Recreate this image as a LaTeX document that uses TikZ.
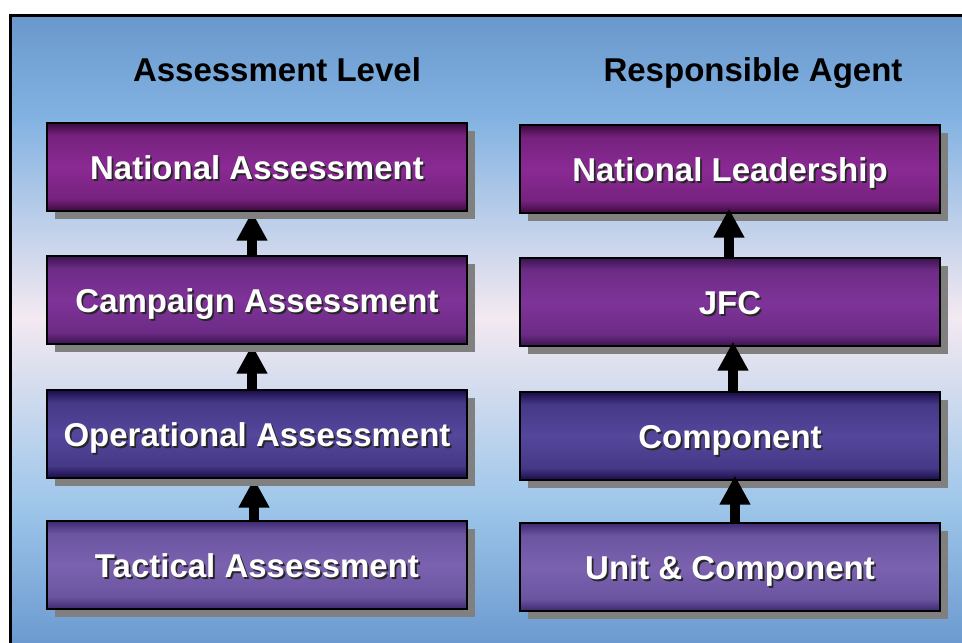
\documentclass[tikz,border=0pt]{standalone}
\usepackage{fontspec}
\setmainfont{Liberation Sans}
\usetikzlibrary{arrows.meta,shadows}

% background colours
\definecolor{bgtop}{HTML}{6A98CC}
\definecolor{bgupper}{HTML}{82B2E2}
\definecolor{bgpink}{HTML}{F3E9F1}
\definecolor{bglower}{HTML}{9EC6EA}
\definecolor{bgbottom}{HTML}{6C9AD0}
\definecolor{boxshadow}{HTML}{808080}
\pgfdeclareverticalshading{bgshade}{100bp}{color(0bp)=(bgbottom); color(25bp)=(bgbottom);
  color(36bp)=(bglower); color(51bp)=(bgpink); color(67bp)=(bgupper); color(75bp)=(bgtop); color(100bp)=(bgtop)}

% box shadings: dark edges, lighter middle
\newcommand{\defboxshade}[3]{%
  \definecolor{#1e}{HTML}{#2}\definecolor{#1m}{HTML}{#3}\colorlet{#1h}{#1m!75!#1e}%
  \pgfdeclareverticalshading{#1shade}{100bp}{color(0bp)=(#1e); color(25bp)=(#1e); color(32bp)=(#1h);
    color(50bp)=(#1m); color(68bp)=(#1h); color(75bp)=(#1e); color(100bp)=(#1e)}}
\defboxshade{nat}{3A0A3C}{8A2A94}
\defboxshade{camp}{3A1450}{7E3398}
\defboxshade{oper}{1A0C48}{54479C}
\defboxshade{tact}{3C2A70}{7A62B0}

\newcommand{\shadowtxt}[1]{\makebox[0pt][l]{\hspace{1.8pt}\raisebox{-1.8pt}{\textcolor{black!85}{#1}}}#1}

\pgfdeclarelayer{bglayer}
\pgfdeclarelayer{behind}
\pgfsetlayers{bglayer,behind,main}

\begin{document}
\begin{tikzpicture}[x=1pt,y=-1pt,
    lvlbox/.style={draw=black, line width=1.2pt, minimum width=420pt, minimum height=88pt, inner sep=0pt,
      text height=25pt, text depth=0pt,
      text=white, font=\fontsize{33}{36}\selectfont\bfseries,
      drop shadow={shadow xshift=8pt, shadow yshift=-8pt, fill=boxshadow, opacity=1}},
    hdr/.style={text=black, text height=24pt, text depth=0pt, font=\fontsize{33}{36}\selectfont\bfseries},
    uparrow/.style={line width=9.3pt, -{Triangle[width=29pt,length=29pt]}}]
        \useasboundingbox (0,0) rectangle (962,643);
        \begin{pgfonlayer}{bglayer}
        \shade[shading=bgshade] (12,17) rectangle (962,643);
        \draw[line width=3pt] (10.5,643) -- (10.5,15.5) -- (962,15.5);
        \end{pgfonlayer}

        \node[hdr] (hlevel) at (277,69) {Assessment Level};
        \node[hdr] (hagent) at (753,69) {Responsible Agent};

        % assessment levels
        \node[lvlbox, shading=natshade] (nat) at (257,167) {\shadowtxt{National Assessment}};
        \node[lvlbox, shading=campshade] (camp) at (257,300) {\shadowtxt{Campaign Assessment}};
        \node[lvlbox, shading=opershade] (oper) at (257,434) {\shadowtxt{Operational Assessment}};
        \node[lvlbox, shading=tactshade] (tact) at (257,565) {\shadowtxt{Tactical Assessment}};

        % responsible agents
        \node[lvlbox, shading=natshade] (lead) at (730,169) {\shadowtxt{National Leadership}};
        \node[lvlbox, shading=campshade] (jfc) at (730,302) {\shadowtxt{JFC}};
        \node[lvlbox, shading=opershade] (comp) at (730,436) {\shadowtxt{Component}};
        \node[lvlbox, shading=tactshade] (unit) at (730,567) {\shadowtxt{Unit \& Component}};

        % left arrows sit behind the boxes and their shadows
        \begin{pgfonlayer}{behind}
        \draw[uparrow] ([xshift=-5pt]camp.north) -- ([xshift=-5pt]nat.south);
        \draw[uparrow] ([xshift=-5pt]oper.north) -- ([xshift=-5pt]camp.south);
        \draw[uparrow] ([xshift=-3pt]tact.north) -- ([xshift=-3pt]oper.south);
        \end{pgfonlayer}
        \draw[uparrow] ([xshift=-1pt]jfc.north) -- ([xshift=-1pt,yshift=5pt]lead.south);
        \draw[uparrow] ([xshift=3pt]comp.north) -- ([xshift=3pt,yshift=5pt]jfc.south);
        \draw[uparrow] ([xshift=5pt]unit.north) -- ([xshift=5pt,yshift=5pt]comp.south);
\end{tikzpicture}
\end{document}
